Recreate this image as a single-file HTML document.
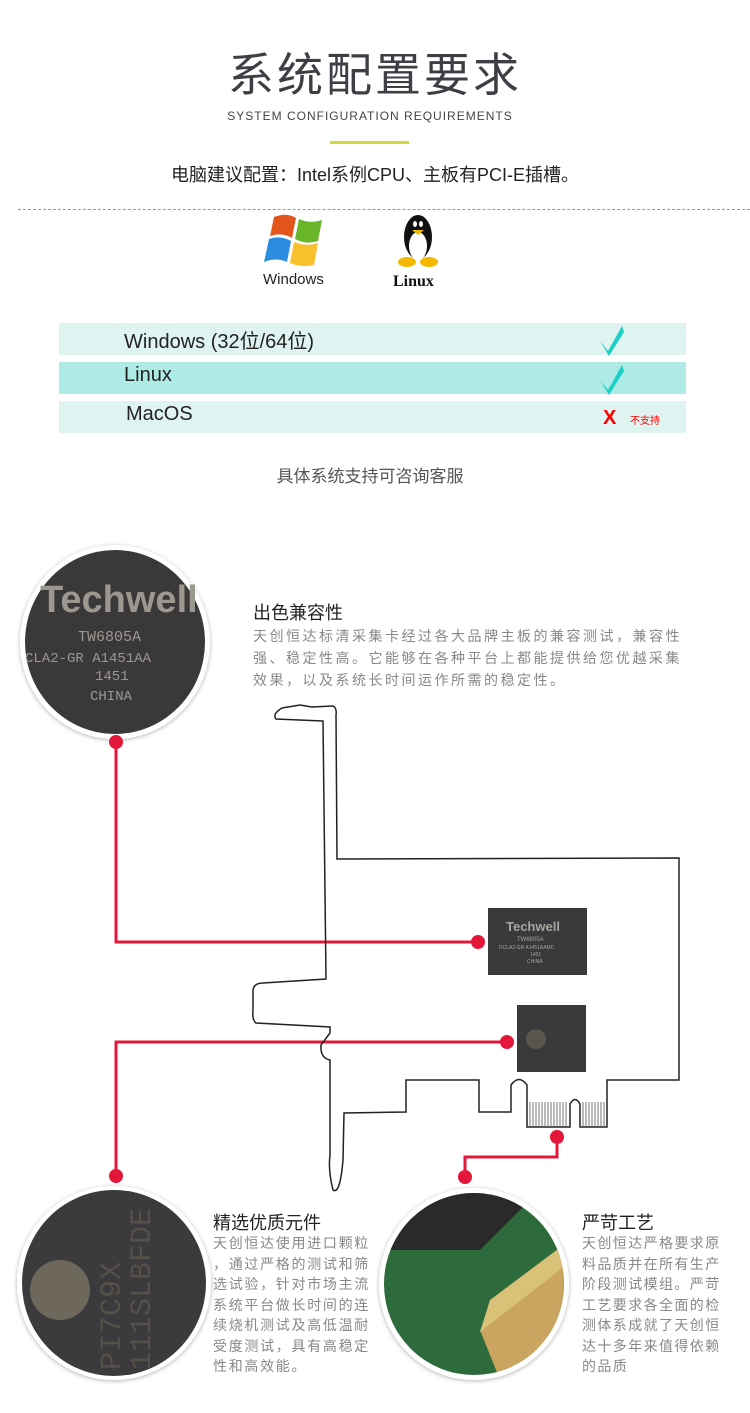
<!DOCTYPE html>
<html><head><meta charset="utf-8"><style>
*{margin:0;padding:0;box-sizing:border-box}
body{width:750px;height:1413px;background:#fff;position:relative;overflow:hidden;font-family:"Liberation Sans","Noto Sans CJK SC",sans-serif}
.a{position:absolute;white-space:nowrap}
.row{position:absolute;left:59px;width:627px;height:32px}
.row span{position:absolute;left:65px;top:2px;font-size:20px;color:#222}
.p{position:absolute;font-size:14px;color:#888;line-height:20.5px;letter-spacing:1.7px;white-space:nowrap}
</style></head><body>
<div class="a" style="left:0;width:750px;text-align:center;top:48px;font-size:46px;line-height:54px;color:#3e3e44;letter-spacing:3px;font-weight:normal">系统配置要求</div>
<div class="a" style="left:0;width:740px;text-align:center;top:109px;font-size:12px;color:#444;letter-spacing:1px">SYSTEM CONFIGURATION REQUIREMENTS</div>
<div class="a" style="left:330px;top:141px;width:79px;height:3px;background:#cfdc3a"></div>
<div class="a" style="left:0;width:750px;text-align:center;top:161px;font-size:18px;color:#222">电脑建议配置：Intel系例CPU、主板有PCI-E插槽。</div>
<div class="a" style="left:18px;top:209px;width:732px;border-top:1px dashed #999"></div>

<svg class="a" style="left:262px;top:212px" width="200" height="80">
<path d="M12 5 Q25 0 34 6 L30 26 Q20 20 8 24Z" fill="#e2561e"/>
<path d="M37 7 Q48 12 60 8 L56 29 Q44 33 33 27Z" fill="#6ab62a"/>
<path d="M7 27 Q18 23 29 29 L25 50 Q14 45 2 50Z" fill="#2c8de0"/>
<path d="M32 30 Q44 35 56 31 L52 53 Q40 56 28 51Z" fill="#f8c02a"/>
<text x="1" y="72" font-size="15" fill="#222" font-family="Liberation Sans">Windows</text>
<ellipse cx="156" cy="25" rx="14" ry="22" fill="#111"/>
<ellipse cx="156" cy="34" rx="9" ry="14" fill="#fff"/>
<ellipse cx="153" cy="12" rx="2" ry="3" fill="#fff"/><ellipse cx="159" cy="12" rx="2" ry="3" fill="#fff"/>
<path d="M150 18 L162 18 L156 23Z" fill="#f5b800"/>
<ellipse cx="145" cy="50" rx="9" ry="5" fill="#f5b800"/><ellipse cx="167" cy="50" rx="9" ry="5" fill="#f5b800"/>
<text x="131" y="74" font-size="16" fill="#111" font-weight="bold" font-family="Liberation Serif">Linux</text>
</svg>

<div class="row" style="top:323px;background:#dff3f1"><span>Windows (32位/64位)</span></div>
<div class="row" style="top:362px;background:#aeebe6"><span>Linux</span></div>
<div class="row" style="top:401px;background:#dff3f1"><span style="left:67px">MacOS</span></div>
<svg class="a" style="left:595px;top:323px" width="100" height="110">
<path d="M5 18 L13 28 L27 3 L29 9 L14 33 Z" fill="#1dcfc4"/>
<path d="M5 57 L13 67 L27 42 L29 48 L14 72 Z" fill="#1dcfc4"/>
<text x="8" y="101" font-size="20" font-weight="bold" fill="#f00" font-family="Liberation Sans">X</text>
<text x="35" y="101" font-size="10" fill="#f00">不支持</text>
</svg>
<div class="a" style="left:0;width:740px;text-align:center;top:462px;font-size:17px;color:#555">具体系统支持可咨询客服</div>

<svg class="a" style="left:0;top:0" width="750" height="1413">
<defs><filter id="sh"><feDropShadow dx="0" dy="1" stdDeviation="2" flood-opacity="0.3"/></filter></defs>
<ellipse cx="115" cy="642" rx="95" ry="97" fill="#fff" filter="url(#sh)"/>
<ellipse cx="115" cy="642" rx="90" ry="92" fill="#3b383a"/>
<text x="40" y="612" font-size="38" font-weight="bold" fill="#9b9890" font-family="Liberation Sans">Techwell</text>
<text x="78" y="641" font-size="15" fill="#9b9890" font-family="Liberation Mono">TW6805A</text>
<text x="25" y="662" font-size="14" fill="#9b9890" font-family="Liberation Mono">CLA2-GR  A1451AA</text>
<text x="95" y="680" font-size="14" fill="#9b9890" font-family="Liberation Mono">1451</text>
<text x="90" y="700" font-size="14" fill="#9b9890" font-family="Liberation Mono">CHINA</text>

<ellipse cx="114" cy="1283" rx="97" ry="97" fill="#fff" filter="url(#sh)"/>
<ellipse cx="114" cy="1283" rx="92" ry="93" fill="#3b3a3c"/>
<circle cx="60" cy="1290" r="30" fill="#6e675c"/>
<text transform="translate(120,1370) rotate(-90)" font-size="30" fill="#555048" font-family="Liberation Mono">PI7C9X</text>
<text transform="translate(150,1370) rotate(-90)" font-size="30" fill="#555048" font-family="Liberation Mono">111SLBFDE</text>

<ellipse cx="474" cy="1284" rx="95" ry="96" fill="#fff" filter="url(#sh)"/>
<clipPath id="c3"><ellipse cx="474" cy="1284" rx="90" ry="91"/></clipPath>
<g clip-path="url(#c3)">
<rect x="380" y="1190" width="190" height="190" fill="#2d6b3c"/>
<path d="M380 1190 L540 1190 L480 1250 L380 1250Z" fill="#2a2a2c"/>
<path d="M480 1330 L570 1260 L570 1380 L500 1380Z" fill="#c9a560"/>
<path d="M490 1300 L570 1240 L570 1262 L480 1332Z" fill="#d9c177"/>
</g>

<g fill="none" stroke="#e4173a" stroke-width="3">
<path d="M116 742 V942 H478"/>
<path d="M116 1176 V1042 H507"/>
<path d="M557 1137 V1157 H465 V1177"/>
</g>
<g fill="#e4173a">
<circle cx="116" cy="742" r="7"/><circle cx="478" cy="942" r="7"/>
<circle cx="116" cy="1176" r="7"/><circle cx="507" cy="1042" r="7"/>
<circle cx="557" cy="1137" r="7"/><circle cx="465" cy="1177" r="7"/>
</g>

<path d="M323 721 L276 719 Q272 714 282 708 L300 705 L312 707 L333 706 Q337 708 336 715 L337 859 L679 858 L679 1080 L607 1080 L607 1127 L580 1127 L580 1104 Q575 1095 570 1104 L570 1127 L527 1127 L527 1085 Q519 1074 511 1085 L511 1112 L479 1112 L479 1080 L406 1080 L406 1112 L344 1113 L343 1160 Q340 1195 333 1190 Q328 1170 330 1155 L330 1060 Q320 1058 321 1045 L330 1033 L330 1027 L256 1023 Q252 1020 253 1010 L253 990 Q254 983 263 983 L326 979 Z" fill="none" stroke="#222" stroke-width="1.5"/>
<g stroke="#555" stroke-width="0.8">
<path d="M530 1102V1127M533 1102V1127M536 1102V1127M539 1102V1127M542 1102V1127M545 1102V1127M548 1102V1127M551 1102V1127M554 1102V1127M557 1102V1127M560 1102V1127M563 1102V1127M566 1102V1127M583 1102V1127M586 1102V1127M589 1102V1127M592 1102V1127M595 1102V1127M598 1102V1127M601 1102V1127M604 1102V1127"/>
</g>
<rect x="488" y="908" width="99" height="67" fill="#3a393b"/>
<text x="506" y="931" font-size="13" font-weight="bold" fill="#a8a59c">Techwell</text>
<text x="517" y="941" font-size="6" fill="#a8a59c">TW6805A</text>
<text x="499" y="949" font-size="5" fill="#a8a59c">DCLA2-GR  A1451AAMC</text>
<text x="530" y="956" font-size="5" fill="#a8a59c">1451 </text>
<text x="527" y="963" font-size="5" fill="#a8a59c">CHINA</text>
<rect x="517" y="1005" width="69" height="67" fill="#3a393b"/>
<circle cx="536" cy="1039" r="10" fill="#5a554c"/>
</svg>

<div class="a" style="left:253px;top:599px;font-size:18px;color:#222">出色兼容性</div>
<div class="p" style="left:253px;top:625px;font-size:14px;letter-spacing:2.5px;line-height:22px">天创恒达标清采集卡经过各大品牌主板的兼容测试，兼容性<br>强、稳定性高。它能够在各种平台上都能提供给您优越采集<br>效果，以及系统长时间运作所需的稳定性。</div>

<div class="a" style="left:213px;top:1209px;font-size:18px;color:#222">精选优质元件</div>
<div class="p" style="left:213px;top:1233px">天创恒达使用进口颗粒<br>，通过严格的测试和筛<br>选试验，针对市场主流<br>系统平台做长时间的连<br>续烧机测试及高低温耐<br>受度测试，具有高稳定<br>性和高效能。</div>
<div class="a" style="left:582px;top:1209px;font-size:18px;color:#222">严苛工艺</div>
<div class="p" style="left:582px;top:1233px;letter-spacing:1.4px">天创恒达严格要求原<br>料品质并在所有生产<br>阶段测试模组。严苛<br>工艺要求各全面的检<br>测体系成就了天创恒<br>达十多年来值得依赖<br>的品质</div>
</body></html>
